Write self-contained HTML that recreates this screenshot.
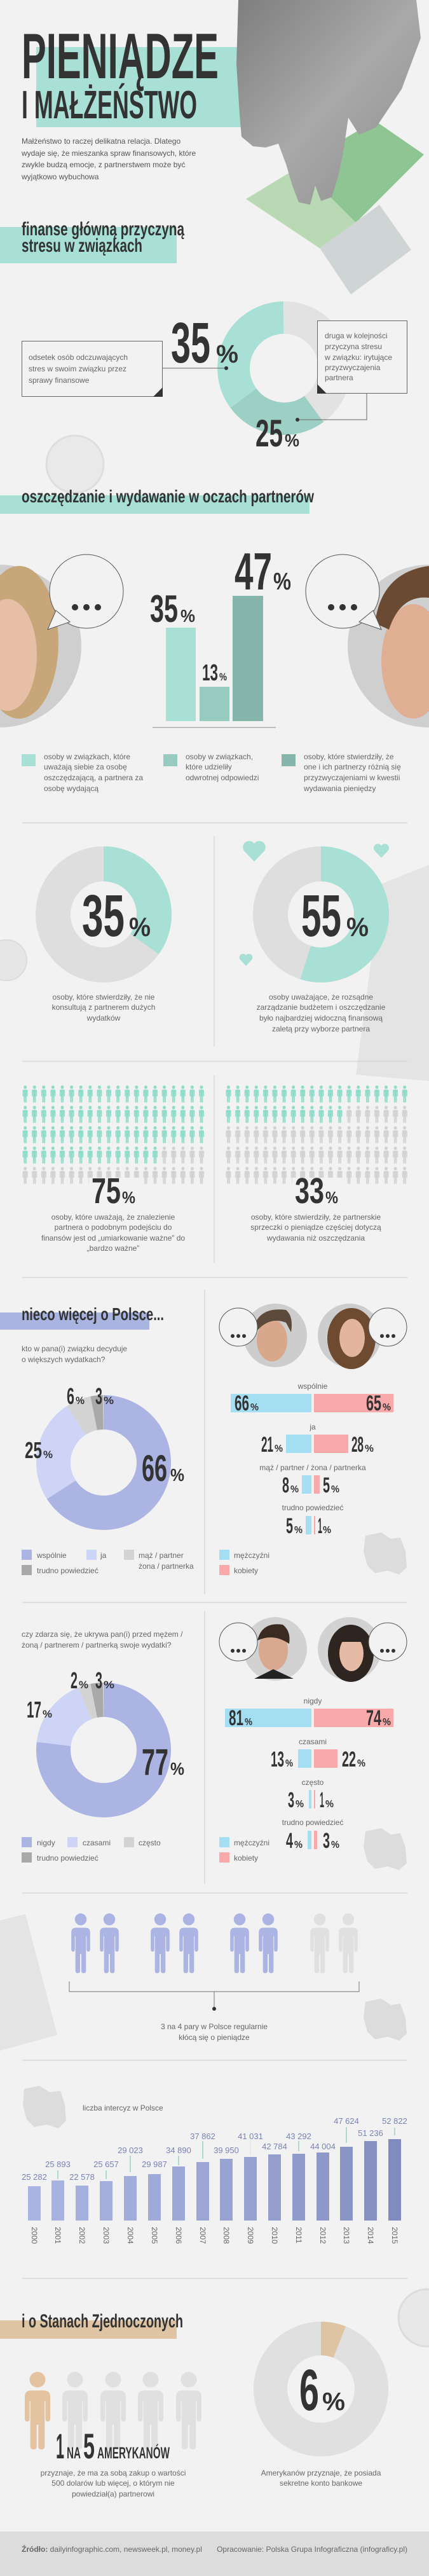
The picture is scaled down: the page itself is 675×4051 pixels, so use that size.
<!DOCTYPE html>
<html><head><meta charset="utf-8"><style>
html,body{margin:0;padding:0;background:#f2f2f2;}
svg{display:block;}
.c{font-family:"Liberation Sans Narrow","Liberation Sans",sans-serif;font-weight:bold;fill:#333;}
.t{font-family:"Liberation Sans",sans-serif;fill:#666;font-size:12px;}
.v{font-family:"Liberation Sans Narrow","Liberation Sans",sans-serif;fill:#7a82b5;font-size:13px;}
.y{font-family:"Liberation Sans",sans-serif;fill:#666;font-size:12px;}
</style></head><body>
<svg width="675" height="4051" viewBox="0 0 675 4051" xmlns="http://www.w3.org/2000/svg">
<defs>
<symbol id="p" viewBox="0 0 40 100" preserveAspectRatio="none"><circle cx="20" cy="10" r="10"/><path d="M4 32 Q4 24 12 24 H28 Q36 24 36 32 V60 Q36 64 33 64 Q30 64 30 60 V38 H29 V96 Q29 100 25 100 Q21 100 21 96 V68 H19 V96 Q19 100 15 100 Q11 100 11 96 V38 H10 V60 Q10 64 7 64 Q4 64 4 60 Z"/></symbol>
<symbol id="h" viewBox="0 0 20 18"><path d="M10 18 L1.5 9 A5 5 0 0 1 10 3 A5 5 0 0 1 18.5 9 Z"/></symbol>
<pattern id="gLt" x="32.3" y="1707" width="14.6" height="32" patternUnits="userSpaceOnUse"><use href="#p" x="2.3" y="0" width="10" height="27" fill="#8fdcc9"/></pattern>
<pattern id="gLg" x="32.3" y="1707" width="14.6" height="32" patternUnits="userSpaceOnUse"><use href="#p" x="2.3" y="0" width="10" height="27" fill="#d2d2d2"/></pattern>
<pattern id="gRt" x="352.2" y="1707" width="14.59" height="32" patternUnits="userSpaceOnUse"><use href="#p" x="2.3" y="0" width="10" height="27" fill="#8fdcc9"/></pattern>
<pattern id="gRg" x="352.2" y="1707" width="14.59" height="32" patternUnits="userSpaceOnUse"><use href="#p" x="2.3" y="0" width="10" height="27" fill="#d2d2d2"/></pattern>
<linearGradient id="hand" x1="0" y1="0" x2="1" y2="1"><stop offset="0" stop-color="#7e7e7e"/><stop offset="0.5" stop-color="#a9a9a9"/><stop offset="1" stop-color="#8c8c8c"/></linearGradient>
</defs>
<rect width="675" height="4051" fill="#f2f2f2"/>

<!-- header -->
<rect x="57" y="74" width="322" height="126" fill="#a8e0d6"/>
<polygon points="387,313 590,190 667,243 513,397" fill="#b9d9b4"/>
<polygon points="470,260 590,190 667,243 560,350" fill="#8fc592"/>
<polygon points="503,390 597,322 647,393 552,463" fill="#cfd5d4"/>
<path d="M375,0 L655,0 L662,60 L632,140 L592,200 L565,212 L548,185 L540,240 L532,278 L522,310 L505,316 L496,292 L488,322 L470,318 L460,292 L450,258 L438,226 L418,232 L398,230 L380,215 L377,180 L372,100 Z" fill="url(#hand)"/>
<text class="c" x="34" y="123" font-size="101" textLength="310" lengthAdjust="spacingAndGlyphs">PIENIĄDZE</text>
<text class="c" x="34" y="186" font-size="62" textLength="276" lengthAdjust="spacingAndGlyphs">I MAŁŻEŃSTWO</text>
<g class="t" font-size="13" style="fill:#555">
<text x="34" y="226">Małżeństwo to raczej delikatna relacja. Dlatego</text>
<text x="34" y="245">wydaje się, że mieszanka spraw finansowych, które</text>
<text x="34" y="263">zwykle budzą emocje, z partnerstwem może być</text>
<text x="34" y="282">wyjątkowo wybuchowa</text>
</g>
<rect x="0" y="357" width="278" height="57" fill="#a8e0d6"/>
<text class="c" x="34" y="370" font-size="30" textLength="256" lengthAdjust="spacingAndGlyphs">finanse główną przyczyną</text>
<text class="c" x="34" y="396" font-size="30" textLength="190" lengthAdjust="spacingAndGlyphs">stresu w związkach</text>

<!-- donut 1 -->
<g transform="rotate(-90 447 579)" fill="none" stroke-width="51">
<circle cx="447" cy="579" r="79.5" pathLength="100" stroke="#e2e2e2" stroke-dasharray="40 100"/>
<circle cx="447" cy="579" r="79.5" pathLength="100" stroke="#9dd0c4" stroke-dasharray="25 100" stroke-dashoffset="-40"/>
<circle cx="447" cy="579" r="79.5" pathLength="100" stroke="#a8e0d6" stroke-dasharray="35 100" stroke-dashoffset="-65"/>
</g>
<rect x="34.5" y="536.5" width="221" height="87" fill="#f2f2f2" stroke="#666"/>
<polygon points="256,609 256,624 241,624" fill="#333"/>
<g class="t"><text x="45" y="566">odsetek osób odczuwających</text><text x="45" y="584">stres w swoim związku przez</text><text x="45" y="602">sprawy finansowe</text></g>
<polyline points="256,579 356,579" stroke="#666" fill="none"/><circle cx="356" cy="579" r="3" fill="#333"/>
<text class="c" x="269" y="570" font-size="90" textLength="62" lengthAdjust="spacingAndGlyphs">35</text>
<text class="c" x="340" y="570" font-size="40" textLength="35" lengthAdjust="spacingAndGlyphs">%</text>
<rect x="499.5" y="504.5" width="141" height="114" fill="#f2f2f2" stroke="#666"/>
<polygon points="499,604 499,619 514,619" fill="#333"/>
<g class="t"><text x="511" y="532">druga w kolejności</text><text x="511" y="549">przyczyna stresu</text><text x="511" y="566">w związku: irytujące</text><text x="511" y="582">przyzwyczajenia</text><text x="511" y="598">partnera</text></g>
<polyline points="577,619 577,660 468,660" stroke="#666" fill="none"/><circle cx="468" cy="660" r="3" fill="#333"/>
<text class="c" x="402" y="702" font-size="60" textLength="43" lengthAdjust="spacingAndGlyphs">25</text>
<text class="c" x="448" y="702" font-size="28" textLength="23" lengthAdjust="spacingAndGlyphs">%</text>
<circle cx="118" cy="730" r="45" fill="#e9e9e9" stroke="#dedede" stroke-width="3"/>

<!-- oszczędzanie -->
<rect x="0" y="779" width="487" height="29" fill="#a8e0d6"/>
<text class="c" x="34" y="790" font-size="28" textLength="460" lengthAdjust="spacingAndGlyphs">oszczędzanie i wydawanie w oczach partnerów</text>
<circle cx="0" cy="1016" r="128" fill="#cfcfcf"/>
<ellipse cx="30" cy="1010" rx="62" ry="120" fill="#c7a77a"/>
<ellipse cx="12" cy="1030" rx="46" ry="88" fill="#e7bfa6"/>
<circle cx="136" cy="930" r="58" fill="#f2f2f2" stroke="#555"/>
<polygon points="88,960 75,990 110,978" fill="#f2f2f2" stroke="#555"/>
<circle cx="118" cy="955" r="5" fill="#333"/><circle cx="136" cy="955" r="5" fill="#333"/><circle cx="154" cy="955" r="5" fill="#333"/>
<circle cx="675" cy="1016" r="128" fill="#cfcfcf"/>
<ellipse cx="650" cy="1040" rx="50" ry="90" fill="#dfae93"/>
<path d="M590,980 Q600,900 675,890 L675,940 Q630,935 612,990 Z" fill="#6b4a33"/>
<circle cx="539" cy="930" r="58" fill="#f2f2f2" stroke="#555"/>
<polygon points="587,960 600,990 565,978" fill="#f2f2f2" stroke="#555"/>
<circle cx="521" cy="955" r="5" fill="#333"/><circle cx="539" cy="955" r="5" fill="#333"/><circle cx="557" cy="955" r="5" fill="#333"/>
<rect x="261" y="987" width="47" height="147" fill="#a8e0d6"/>
<rect x="314" y="1080" width="47" height="54" fill="#97cbc0"/>
<rect x="366" y="937" width="48" height="197" fill="#85b5ab"/>
<line x1="240" y1="1144" x2="434" y2="1144" stroke="#888"/>
<text class="c" x="236" y="978" font-size="60" textLength="44" lengthAdjust="spacingAndGlyphs">35</text>
<text class="c" x="284" y="978" font-size="28" textLength="23" lengthAdjust="spacingAndGlyphs">%</text>
<text class="c" x="318" y="1070" font-size="36" textLength="25" lengthAdjust="spacingAndGlyphs">13</text>
<text class="c" x="345" y="1070" font-size="17" textLength="12" lengthAdjust="spacingAndGlyphs">%</text>
<text class="c" x="369" y="927" font-size="83" textLength="59" lengthAdjust="spacingAndGlyphs">47</text>
<text class="c" x="430" y="927" font-size="38" textLength="28" lengthAdjust="spacingAndGlyphs">%</text>
<rect x="34" y="1186" width="22" height="19" fill="#a8e0d6"/>
<rect x="257" y="1186" width="22" height="19" fill="#97cbc0"/>
<rect x="443" y="1186" width="22" height="19" fill="#85b5ab"/>
<g class="t" font-size="11.5">
<text x="69" y="1194">osoby w związkach, które</text><text x="69" y="1210">uważają siebie za osobę</text><text x="69" y="1227">oszczędzającą, a partnera za</text><text x="69" y="1244">osobę wydającą</text>
<text x="292" y="1194">osoby w związkach,</text><text x="292" y="1210">które udzieliły</text><text x="292" y="1227">odwrotnej odpowiedzi</text>
<text x="478" y="1194">osoby, które stwierdziły, że</text><text x="478" y="1210">one i ich partnerzy różnią się</text><text x="478" y="1227">przyzwyczajeniami w kwestii</text><text x="478" y="1244">wydawania pieniędzy</text>
</g>
<line x1="35" y1="1294" x2="641" y2="1294" stroke="#ccc"/>
<line x1="337" y1="1315" x2="337" y2="1646" stroke="#ccc"/>

<!-- two donuts -->
<polygon points="600,1390 675,1360 675,1700 560,1690" fill="#e4e4e4"/>
<circle cx="10" cy="1510" r="32" fill="#e6e6e6" stroke="#dcdcdc" stroke-width="2"/>
<g fill="none" stroke-width="55">
<circle cx="163" cy="1438" r="79.5" pathLength="100" stroke="#dedede" transform="rotate(-90 163 1438)"/>
<circle cx="163" cy="1438" r="79.5" pathLength="100" stroke="#a8e0d6" stroke-dasharray="35 100" transform="rotate(-90 163 1438)"/>
<circle cx="505" cy="1438" r="79.5" pathLength="100" stroke="#dedede" transform="rotate(-90 505 1438)"/>
<circle cx="505" cy="1438" r="79.5" pathLength="100" stroke="#a8e0d6" stroke-dasharray="55 100" transform="rotate(-90 505 1438)"/>
</g>
<text class="c" x="129" y="1472" font-size="93" textLength="67" lengthAdjust="spacingAndGlyphs">35</text>
<text class="c" x="203" y="1472" font-size="42" textLength="34" lengthAdjust="spacingAndGlyphs">%</text>
<text class="c" x="474" y="1472" font-size="93" textLength="63" lengthAdjust="spacingAndGlyphs">55</text>
<text class="c" x="545" y="1472" font-size="42" textLength="35" lengthAdjust="spacingAndGlyphs">%</text>
<use href="#h" x="381" y="1321" width="38" height="34" fill="#a8e0d6"/>
<use href="#h" x="587" y="1326" width="26" height="23" fill="#a8e0d6"/>
<use href="#h" x="376" y="1499" width="22" height="20" fill="#a8e0d6"/>
<g class="t" font-size="11.5" text-anchor="middle">
<text x="163" y="1572">osoby, które stwierdziły, że nie</text><text x="163" y="1588">konsultują z partnerem dużych</text><text x="163" y="1605">wydatków</text>
<text x="505" y="1572">osoby uważające, że rozsądne</text><text x="505" y="1588">zarządzanie budżetem i oszczędzanie</text><text x="505" y="1605">było najbardziej widoczną finansową</text><text x="505" y="1622">zaletą przy wyborze partnera</text>
</g>
<line x1="35" y1="1669" x2="641" y2="1669" stroke="#ccc"/>
<line x1="337" y1="1691" x2="337" y2="1986" stroke="#ccc"/>

<!-- people grids -->
<rect x="32.3" y="1707" width="292" height="96" fill="url(#gLt)"/>
<rect x="32.3" y="1803" width="219" height="32" fill="url(#gLt)"/>
<rect x="251.3" y="1803" width="73" height="32" fill="url(#gLg)"/>
<rect x="32.3" y="1835" width="292" height="32" fill="url(#gLg)"/>
<rect x="352.2" y="1707" width="291.8" height="32" fill="url(#gRt)"/>
<rect x="352.2" y="1739" width="189.7" height="32" fill="url(#gRt)"/>
<rect x="541.9" y="1739" width="102.1" height="32" fill="url(#gRg)"/>
<rect x="352.2" y="1771" width="291.8" height="96" fill="url(#gRg)"/>
<rect x="140" y="1852" width="78" height="42" fill="#f2f2f2"/>
<rect x="460" y="1852" width="78" height="42" fill="#f2f2f2"/>
<text class="c" x="144" y="1892" font-size="57" textLength="46" lengthAdjust="spacingAndGlyphs">75</text>
<text class="c" x="192" y="1892" font-size="26" textLength="21" lengthAdjust="spacingAndGlyphs">%</text>
<text class="c" x="464" y="1892" font-size="57" textLength="46" lengthAdjust="spacingAndGlyphs">33</text>
<text class="c" x="512" y="1892" font-size="26" textLength="20" lengthAdjust="spacingAndGlyphs">%</text>
<g class="t" font-size="11.5" text-anchor="middle">
<text x="178" y="1918">osoby, które uważają, że znalezienie</text><text x="178" y="1934">partnera o podobnym podejściu do</text><text x="178" y="1951">finansów jest od „umiarkowanie ważne” do</text><text x="178" y="1967">„bardzo ważne”</text>
<text x="497" y="1918">osoby, które stwierdziły, że partnerskie</text><text x="497" y="1934">sprzeczki o pieniądze częściej dotyczą</text><text x="497" y="1951">wydawania niż oszczędzania</text>
</g>
<line x1="35" y1="2009" x2="641" y2="2009" stroke="#ccc"/>

<!-- Polska -->
<line x1="322" y1="2028" x2="322" y2="2507" stroke="#ccc"/>
<line x1="322" y1="2534" x2="322" y2="2962" stroke="#ccc"/>
<rect x="0" y="2064" width="235" height="27" fill="#aab4e0"/>
<text class="c" x="34" y="2076" font-size="28" textLength="224" lengthAdjust="spacingAndGlyphs">nieco więcej o Polsce...</text>
<g class="t" font-size="12.5"><text x="34" y="2125">kto w pana(i) związku decyduje</text><text x="34" y="2142">o większych wydatkach?</text>
<text x="34" y="2574">czy zdarza się, że ukrywa pan(i) przed mężem /</text><text x="34" y="2591">żoną / partnerem / partnerką swoje wydatki?</text></g>

<g fill="none" stroke-width="54">
<circle cx="163" cy="2300" r="79" pathLength="100" stroke="#abb4e2" stroke-dasharray="66 100" transform="rotate(-90 163 2300)"/>
<circle cx="163" cy="2300" r="79" pathLength="100" stroke="#cdd4f5" stroke-dasharray="25 100" stroke-dashoffset="-66" transform="rotate(-90 163 2300)"/>
<circle cx="163" cy="2300" r="79" pathLength="100" stroke="#d3d3d3" stroke-dasharray="6 100" stroke-dashoffset="-91" transform="rotate(-90 163 2300)"/>
<circle cx="163" cy="2300" r="79" pathLength="100" stroke="#a9a9a9" stroke-dasharray="3 100" stroke-dashoffset="-97" transform="rotate(-90 163 2300)"/>
<circle cx="163" cy="2752" r="79" pathLength="100" stroke="#abb4e2" stroke-dasharray="77 100" transform="rotate(-90 163 2752)"/>
<circle cx="163" cy="2752" r="79" pathLength="100" stroke="#cdd4f5" stroke-dasharray="17 100" stroke-dashoffset="-77" transform="rotate(-90 163 2752)"/>
<circle cx="163" cy="2752" r="79" pathLength="100" stroke="#d3d3d3" stroke-dasharray="3 100" stroke-dashoffset="-94" transform="rotate(-90 163 2752)"/>
<circle cx="163" cy="2752" r="79" pathLength="100" stroke="#a9a9a9" stroke-dasharray="3 100" stroke-dashoffset="-97" transform="rotate(-90 163 2752)"/>
</g>
<g class="c">
<text x="105" y="2208" font-size="36" textLength="12" lengthAdjust="spacingAndGlyphs">6</text><text x="119" y="2208" font-size="17" textLength="14" lengthAdjust="spacingAndGlyphs">%</text>
<text x="150" y="2208" font-size="36" textLength="11" lengthAdjust="spacingAndGlyphs">3</text><text x="163" y="2208" font-size="17" textLength="16" lengthAdjust="spacingAndGlyphs">%</text>
<text x="39" y="2293" font-size="36" textLength="27" lengthAdjust="spacingAndGlyphs">25</text><text x="68" y="2293" font-size="17" textLength="15" lengthAdjust="spacingAndGlyphs">%</text>
<text x="223" y="2329" font-size="58" textLength="40" lengthAdjust="spacingAndGlyphs">66</text><text x="268" y="2329" font-size="28" textLength="22" lengthAdjust="spacingAndGlyphs">%</text>
<text x="111" y="2655" font-size="36" textLength="11" lengthAdjust="spacingAndGlyphs">2</text><text x="124" y="2655" font-size="17" textLength="15" lengthAdjust="spacingAndGlyphs">%</text>
<text x="150" y="2655" font-size="36" textLength="11" lengthAdjust="spacingAndGlyphs">3</text><text x="163" y="2655" font-size="17" textLength="17" lengthAdjust="spacingAndGlyphs">%</text>
<text x="42" y="2701" font-size="36" textLength="23" lengthAdjust="spacingAndGlyphs">17</text><text x="67" y="2701" font-size="17" textLength="15" lengthAdjust="spacingAndGlyphs">%</text>
<text x="223" y="2791" font-size="58" textLength="42" lengthAdjust="spacingAndGlyphs">77</text><text x="268" y="2791" font-size="28" textLength="22" lengthAdjust="spacingAndGlyphs">%</text>
</g>
<g class="t" font-size="12.5">
<rect x="34" y="2437" width="16" height="16" fill="#abb4e2"/><text x="58" y="2450">wspólnie</text>
<rect x="136" y="2437" width="16" height="16" fill="#cdd4f5"/><text x="158" y="2450">ja</text>
<rect x="195" y="2437" width="16" height="16" fill="#d3d3d3"/><text x="218" y="2450">mąż / partner</text><text x="218" y="2467">żona / partnerka</text>
<rect x="34" y="2461" width="16" height="16" fill="#a9a9a9"/><text x="58" y="2474">trudno powiedzieć</text>
<rect x="345" y="2437" width="16" height="16" fill="#a4def3"/><text x="368" y="2450">mężczyźni</text>
<rect x="345" y="2461" width="16" height="16" fill="#f9a9a9"/><text x="368" y="2474">kobiety</text>
<rect x="34" y="2889" width="16" height="16" fill="#abb4e2"/><text x="58" y="2902">nigdy</text>
<rect x="106" y="2889" width="16" height="16" fill="#cdd4f5"/><text x="130" y="2902">czasami</text>
<rect x="195" y="2889" width="16" height="16" fill="#d3d3d3"/><text x="218" y="2902">często</text>
<rect x="34" y="2913" width="16" height="16" fill="#a9a9a9"/><text x="58" y="2926">trudno powiedzieć</text>
<rect x="345" y="2889" width="16" height="16" fill="#a4def3"/><text x="368" y="2902">mężczyźni</text>
<rect x="345" y="2913" width="16" height="16" fill="#f9a9a9"/><text x="368" y="2926">kobiety</text>
</g>

<!-- faces -->
<g>
<circle cx="433" cy="2100" r="50" fill="#cdcdcd"/><ellipse cx="428" cy="2108" rx="24" ry="33" fill="#d9a88c"/><path d="M400,2085 Q410,2055 450,2060 Q462,2070 458,2095 L450,2080 Q425,2070 405,2092 Z" fill="#5c4a3a"/>
<circle cx="375" cy="2087" r="30" fill="#f2f2f2" stroke="#555"/><circle cx="366" cy="2101" r="3" fill="#333"/><circle cx="375" cy="2101" r="3" fill="#333"/><circle cx="384" cy="2101" r="3" fill="#333"/>
<circle cx="550" cy="2100" r="50" fill="#cdcdcd"/><ellipse cx="553" cy="2105" rx="38" ry="48" fill="#6e4a30"/><ellipse cx="554" cy="2104" rx="20" ry="30" fill="#e2b59c"/>
<circle cx="610" cy="2087" r="30" fill="#f2f2f2" stroke="#555"/><circle cx="601" cy="2101" r="3" fill="#333"/><circle cx="610" cy="2101" r="3" fill="#333"/><circle cx="619" cy="2101" r="3" fill="#333"/>
<circle cx="433" cy="2593" r="50" fill="#d2d2d2"/><ellipse cx="430" cy="2595" rx="23" ry="32" fill="#d8a98f"/><path d="M405,2580 Q412,2550 445,2555 Q458,2565 455,2585 Q430,2568 405,2580 Z" fill="#3a2b22"/><path d="M400,2640 L430,2625 L462,2640 Z" fill="#222"/>
<circle cx="375" cy="2582" r="30" fill="#f2f2f2" stroke="#555"/><circle cx="366" cy="2596" r="3" fill="#333"/><circle cx="375" cy="2596" r="3" fill="#333"/><circle cx="384" cy="2596" r="3" fill="#333"/>
<circle cx="550" cy="2593" r="50" fill="#d2d2d2"/><ellipse cx="552" cy="2600" rx="36" ry="45" fill="#2e2420"/><ellipse cx="553" cy="2600" rx="19" ry="28" fill="#e6bba5"/><rect x="533" y="2570" width="40" height="12" fill="#2e2420"/>
<circle cx="610" cy="2582" r="30" fill="#f2f2f2" stroke="#555"/><circle cx="601" cy="2596" r="3" fill="#333"/><circle cx="610" cy="2596" r="3" fill="#333"/><circle cx="619" cy="2596" r="3" fill="#333"/>
</g>

<!-- right bars 1 -->
<g class="t" font-size="12.5" text-anchor="middle">
<text x="492" y="2184">wspólnie</text><text x="492" y="2248">ja</text><text x="492" y="2312">mąż / partner / żona / partnerka</text><text x="492" y="2375">trudno powiedzieć</text>
<text x="492" y="2679">nigdy</text><text x="492" y="2743">czasami</text><text x="492" y="2807">często</text><text x="492" y="2870">trudno powiedzieć</text>
</g>
<g fill="#a4def3">
<rect x="363" y="2192" width="127" height="29"/><rect x="450" y="2256" width="40" height="29"/><rect x="475" y="2320" width="15" height="29"/><rect x="481" y="2384" width="9" height="29"/>
<rect x="354" y="2687" width="136" height="29"/><rect x="469" y="2751" width="21" height="29"/><rect x="486" y="2815" width="4" height="29"/><rect x="484" y="2879" width="6" height="29"/>
</g>
<g fill="#f9a9a9">
<rect x="494" y="2192" width="125" height="29"/><rect x="494" y="2256" width="54" height="29"/><rect x="494" y="2320" width="9" height="29"/><rect x="494" y="2384" width="2" height="29"/>
<rect x="494" y="2687" width="125" height="29"/><rect x="494" y="2751" width="37" height="29"/><rect x="494" y="2815" width="2" height="29"/><rect x="494" y="2879" width="5" height="29"/>
</g>
<g class="c">
<text x="369" y="2218" font-size="34" textLength="23" lengthAdjust="spacingAndGlyphs">66</text><text x="394" y="2218" font-size="16" textLength="13" lengthAdjust="spacingAndGlyphs">%</text>
<text x="576" y="2218" font-size="34" textLength="24" lengthAdjust="spacingAndGlyphs">65</text><text x="602" y="2218" font-size="16" textLength="13" lengthAdjust="spacingAndGlyphs">%</text>
<text x="411" y="2283" font-size="34" textLength="19" lengthAdjust="spacingAndGlyphs">21</text><text x="432" y="2283" font-size="16" textLength="13" lengthAdjust="spacingAndGlyphs">%</text>
<text x="553" y="2283" font-size="34" textLength="19" lengthAdjust="spacingAndGlyphs">28</text><text x="574" y="2283" font-size="16" textLength="14" lengthAdjust="spacingAndGlyphs">%</text>
<text x="444" y="2347" font-size="34" textLength="11" lengthAdjust="spacingAndGlyphs">8</text><text x="457" y="2347" font-size="16" textLength="13" lengthAdjust="spacingAndGlyphs">%</text>
<text x="508" y="2347" font-size="34" textLength="11" lengthAdjust="spacingAndGlyphs">5</text><text x="521" y="2347" font-size="16" textLength="13" lengthAdjust="spacingAndGlyphs">%</text>
<text x="450" y="2411" font-size="34" textLength="11" lengthAdjust="spacingAndGlyphs">5</text><text x="463" y="2411" font-size="16" textLength="13" lengthAdjust="spacingAndGlyphs">%</text>
<text x="500" y="2411" font-size="34" textLength="7" lengthAdjust="spacingAndGlyphs">1</text><text x="508" y="2411" font-size="16" textLength="13" lengthAdjust="spacingAndGlyphs">%</text>
<text x="360" y="2713" font-size="34" textLength="23" lengthAdjust="spacingAndGlyphs">81</text><text x="385" y="2713" font-size="16" textLength="12" lengthAdjust="spacingAndGlyphs">%</text>
<text x="576" y="2713" font-size="34" textLength="24" lengthAdjust="spacingAndGlyphs">74</text><text x="602" y="2713" font-size="16" textLength="13" lengthAdjust="spacingAndGlyphs">%</text>
<text x="426" y="2778" font-size="34" textLength="21" lengthAdjust="spacingAndGlyphs">13</text><text x="449" y="2778" font-size="16" textLength="12" lengthAdjust="spacingAndGlyphs">%</text>
<text x="538" y="2778" font-size="34" textLength="22" lengthAdjust="spacingAndGlyphs">22</text><text x="562" y="2778" font-size="16" textLength="13" lengthAdjust="spacingAndGlyphs">%</text>
<text x="453" y="2842" font-size="34" textLength="10" lengthAdjust="spacingAndGlyphs">3</text><text x="465" y="2842" font-size="16" textLength="13" lengthAdjust="spacingAndGlyphs">%</text>
<text x="503" y="2842" font-size="34" textLength="7" lengthAdjust="spacingAndGlyphs">1</text><text x="512" y="2842" font-size="16" textLength="13" lengthAdjust="spacingAndGlyphs">%</text>
<text x="450" y="2906" font-size="34" textLength="11" lengthAdjust="spacingAndGlyphs">4</text><text x="463" y="2906" font-size="16" textLength="13" lengthAdjust="spacingAndGlyphs">%</text>
<text x="508" y="2906" font-size="34" textLength="11" lengthAdjust="spacingAndGlyphs">3</text><text x="521" y="2906" font-size="16" textLength="13" lengthAdjust="spacingAndGlyphs">%</text>
</g>
<g fill="#dcdcdc">
<path d="M575,2415 L600,2410 L615,2420 L630,2418 L638,2440 L640,2465 L628,2476 L610,2470 L590,2474 L578,2462 L572,2440 Z"/>
<path d="M575,2880 L600,2875 L615,2885 L630,2883 L638,2905 L640,2930 L628,2941 L610,2935 L590,2939 L578,2927 L572,2905 Z"/>
<path d="M575,3148 L600,3143 L615,3153 L630,3151 L638,3173 L640,3198 L628,3209 L610,3203 L590,3207 L578,3195 L572,3173 Z"/>
<path d="M38,3285 L62,3280 L78,3290 L95,3288 L102,3310 L104,3335 L92,3347 L74,3341 L54,3345 L42,3333 L36,3310 Z"/>
</g>
<line x1="35" y1="2520" x2="641" y2="2520" stroke="#ccc"/>
<line x1="35" y1="2977" x2="641" y2="2977" stroke="#ccc"/>

<!-- 3 na 4 -->
<polygon points="0,3020 40,3010 90,3200 0,3225" fill="#e4e4e4"/>
<g>
<use href="#p" x="108.5" y="3009" width="37" height="94" fill="#abb4e2"/>
<use href="#p" x="153.5" y="3009" width="37" height="94" fill="#abb4e2"/>
<use href="#p" x="233.5" y="3009" width="37" height="94" fill="#abb4e2"/>
<use href="#p" x="278.5" y="3009" width="37" height="94" fill="#abb4e2"/>
<use href="#p" x="358.5" y="3009" width="37" height="94" fill="#abb4e2"/>
<use href="#p" x="403.5" y="3009" width="37" height="94" fill="#abb4e2"/>
<use href="#p" x="484.5" y="3009" width="37" height="94" fill="#e0e0e0"/>
<use href="#p" x="529.5" y="3009" width="37" height="94" fill="#e0e0e0"/>
</g>
<polyline points="109,3116 109,3132 565,3132 565,3116" fill="none" stroke="#777"/>
<line x1="337" y1="3132" x2="337" y2="3159" stroke="#777"/><circle cx="337" cy="3159" r="3" fill="#333"/>
<g class="t" font-size="12.5" text-anchor="middle"><text x="337" y="3191">3 na 4 pary w Polsce regularnie</text><text x="337" y="3208">kłócą się o pieniądze</text></g>
<line x1="35" y1="3240" x2="641" y2="3240" stroke="#ccc"/>

<!-- intercyzy chart -->
<text class="t" x="130" y="3319" font-size="12.5">liczba intercyz w Polsce</text>
<g>
<rect x="44" y="3438" width="20" height="54" fill="#aab4e2"/>
<rect x="81" y="3429" width="20" height="63" fill="#a8b2e0"/>
<rect x="119" y="3437" width="20" height="55" fill="#a6b0de"/>
<rect x="157" y="3430" width="20" height="62" fill="#a4aedc"/>
<rect x="195" y="3422" width="20" height="70" fill="#a2acda"/>
<rect x="233" y="3419" width="20" height="73" fill="#a0aad8"/>
<rect x="271" y="3407" width="20" height="85" fill="#9ea8d6"/>
<rect x="309" y="3400" width="20" height="92" fill="#9ca6d4"/>
<rect x="346" y="3395" width="20" height="97" fill="#99a3d2"/>
<rect x="384" y="3392" width="20" height="100" fill="#97a1d0"/>
<rect x="422" y="3388" width="20" height="104" fill="#949ece"/>
<rect x="460" y="3387" width="20" height="105" fill="#919bcb"/>
<rect x="498" y="3385" width="20" height="107" fill="#8e98c8"/>
<rect x="535" y="3376" width="20" height="116" fill="#8a94c5"/>
<rect x="573" y="3367" width="20" height="125" fill="#8690c2"/>
<rect x="611" y="3364" width="20" height="128" fill="#828bbf"/>
</g>
<g stroke="#6cc4a4">
<line x1="91" y1="3413" x2="91" y2="3427"/><line x1="167" y1="3413" x2="167" y2="3427"/><line x1="205" y1="3390" x2="205" y2="3416"/>
<line x1="281" y1="3390" x2="281" y2="3405"/><line x1="319" y1="3367" x2="319" y2="3395"/><line x1="394" y1="3367" x2="394" y2="3390" stroke="#e2e2e2"/>
<line x1="470" y1="3367" x2="470" y2="3383"/><line x1="545" y1="3345" x2="545" y2="3370"/><line x1="621" y1="3346" x2="621" y2="3358"/>
</g>
<g class="v" text-anchor="middle">
<text x="54" y="3428">25 282</text><text x="91" y="3408">25 893</text><text x="129" y="3428">22 578</text><text x="167" y="3408">25 657</text>
<text x="205" y="3386">29 023</text><text x="243" y="3408">29 987</text><text x="281" y="3386">34 890</text><text x="319" y="3364">37 862</text>
<text x="356" y="3386">39 950</text><text x="394" y="3364">41 031</text><text x="432" y="3380">42 784</text><text x="470" y="3364">43 292</text>
<text x="508" y="3380">44 004</text><text x="545" y="3340">47 624</text><text x="583" y="3359">51 236</text><text x="621" y="3340">52 822</text>
</g>
<g class="y" dominant-baseline="central">
<text transform="translate(54,3502) rotate(90)">2000</text><text transform="translate(91,3502) rotate(90)">2001</text><text transform="translate(129,3502) rotate(90)">2002</text><text transform="translate(167,3502) rotate(90)">2003</text>
<text transform="translate(205,3502) rotate(90)">2004</text><text transform="translate(243,3502) rotate(90)">2005</text><text transform="translate(281,3502) rotate(90)">2006</text><text transform="translate(319,3502) rotate(90)">2007</text>
<text transform="translate(356,3502) rotate(90)">2008</text><text transform="translate(394,3502) rotate(90)">2009</text><text transform="translate(432,3502) rotate(90)">2010</text><text transform="translate(470,3502) rotate(90)">2011</text>
<text transform="translate(508,3502) rotate(90)">2012</text><text transform="translate(545,3502) rotate(90)">2013</text><text transform="translate(583,3502) rotate(90)">2014</text><text transform="translate(621,3502) rotate(90)">2015</text>
</g>
<line x1="35" y1="3583" x2="641" y2="3583" stroke="#ccc"/>

<!-- USA -->
<circle cx="672" cy="3645" r="45" fill="#e8e8e8" stroke="#dcdcdc" stroke-width="3"/>
<rect x="0" y="3649" width="278" height="29" fill="#dfc4a3"/>
<text class="c" x="34" y="3660" font-size="30" textLength="254" lengthAdjust="spacingAndGlyphs">i o Stanach Zjednoczonych</text>
<g fill="none" stroke-width="53">
<circle cx="505" cy="3757" r="79.5" pathLength="100" stroke="#e0e0e0" transform="rotate(-90 505 3757)"/>
<circle cx="505" cy="3757" r="79.5" pathLength="100" stroke="#dfc4a3" stroke-dasharray="6 100" transform="rotate(-90 505 3757)"/>
</g>
<text class="c" x="471" y="3790" font-size="92" textLength="31" lengthAdjust="spacingAndGlyphs">6</text>
<text class="c" x="507" y="3790" font-size="40" textLength="36" lengthAdjust="spacingAndGlyphs">%</text>
<use href="#p" x="34" y="3730" width="50" height="122" fill="#e3c3a0"/>
<use href="#p" x="93" y="3730" width="50" height="122" fill="#e0e0e0"/>
<use href="#p" x="153" y="3730" width="50" height="122" fill="#e0e0e0"/>
<use href="#p" x="212" y="3730" width="50" height="122" fill="#e0e0e0"/>
<use href="#p" x="272" y="3730" width="50" height="122" fill="#e0e0e0"/>
<g class="c">
<text x="88" y="3866" font-size="56" textLength="13" lengthAdjust="spacingAndGlyphs">1</text>
<text x="105" y="3866" font-size="25" textLength="22" lengthAdjust="spacingAndGlyphs">NA</text>
<text x="131" y="3866" font-size="56" textLength="18" lengthAdjust="spacingAndGlyphs">5</text>
<text x="153" y="3866" font-size="25" textLength="114" lengthAdjust="spacingAndGlyphs">AMERYKANÓW</text>
</g>
<g class="t" font-size="12.5" text-anchor="middle">
<text x="178" y="3893">przyznaje, że ma za sobą zakup o wartości</text><text x="178" y="3909">500 dolarów lub więcej, o którym nie</text><text x="178" y="3926">powiedział(a) partnerowi</text>
<text x="505" y="3893">Amerykanów przyznaje, że posiada</text><text x="505" y="3909">sekretne konto bankowe</text>
</g>
<rect x="0" y="3981" width="675" height="70" fill="#dcdcdc"/>
<g class="t" font-size="11">
<text x="34" y="4013"><tspan font-weight="bold">Źródło:</tspan> dailyinfographic.com, newsweek.pl, money.pl</text>
<text x="641" y="4013" text-anchor="end">Opracowanie: Polska Grupa Infograficzna (infograficy.pl)</text>
</g>
</svg>
</body></html>
